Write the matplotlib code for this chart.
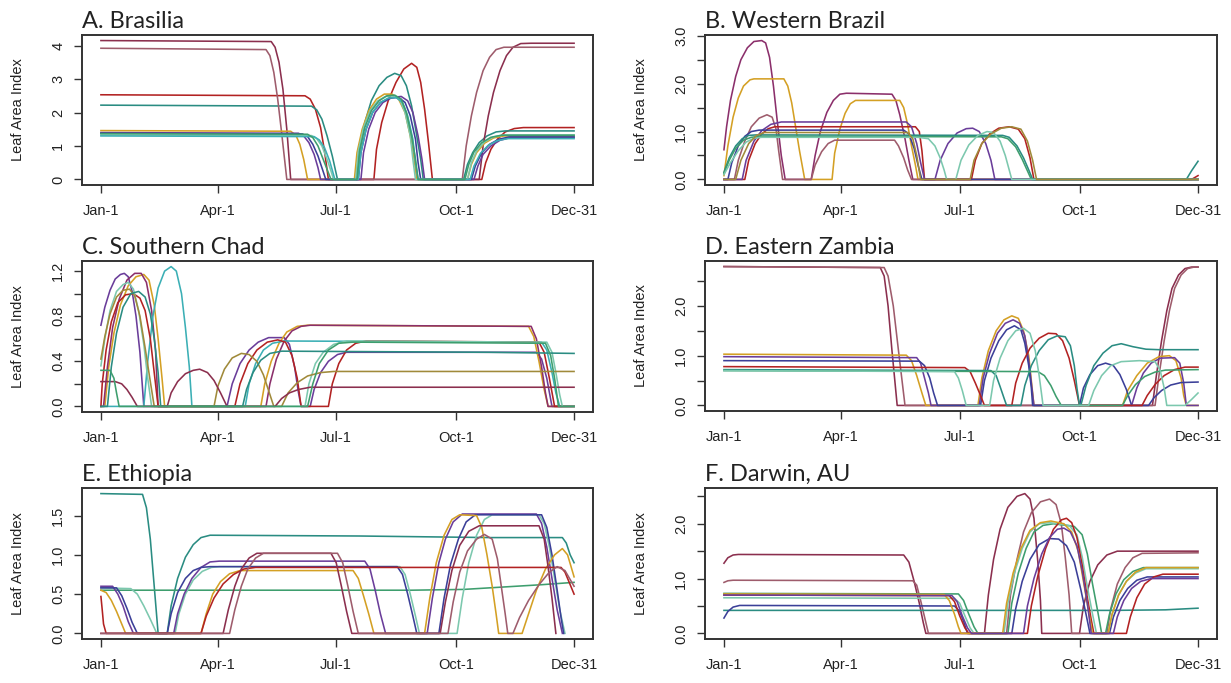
import matplotlib.pyplot as plt

plt.rcParams['font.family'] = ['Liberation Sans', 'DejaVu Sans']

# colours used for the runs
RED = '#B22222'
TEAL = '#2A8C82'
MAROON = '#8B2F4E'
MAUVE = '#9E5C6C'
GOLD = '#D4A024'
PURPLE = '#6A3D9A'
NAVY = '#3B3F98'
AQUA = '#7CC8AE'
CYAN = '#3BAFB5'
GREEN = '#3E9E6E'
PLUM = '#8B2F6B'
OLIVE = '#A08A3A'

TICK_DAYS = [1, 91, 182, 274, 365]
TICK_LABELS = ['Jan-1', 'Apr-1', 'Jul-1', 'Oct-1', 'Dec-31']

# ---- A. Brasilia : (day of year, LAI)
brasilia = [
    [(1, 2.53), (158, 2.50), (162, 2.40), (166, 2.10), (170, 1.55), (173, 0.85), (176, 0),
     (211, 0), (213, 0.9), (217, 1.7), (222, 2.35), (228, 2.9), (234, 3.3), (240, 3.47), (244, 3.35),
     (247, 2.9), (250, 2.1), (253, 1.1), (256, 0),
     (294, 0), (297, 0.5), (301, 0.9), (306, 1.2), (312, 1.42), (319, 1.52), (326, 1.55), (365, 1.55)],
    [(1, 2.22), (163, 2.19), (167, 2.08), (171, 1.8), (175, 1.3), (179, 0.7), (183, 0),
     (198, 0), (200, 0.9), (204, 1.7), (209, 2.35), (215, 2.8), (221, 3.05), (227, 3.17), (232, 3.1),
     (236, 2.8), (240, 2.2), (244, 1.3), (247, 0.6), (249, 0),
     (280, 0), (283, 0.45), (287, 0.8), (292, 1.1), (298, 1.3), (305, 1.42), (312, 1.45), (365, 1.45)],
    [(1, 4.15), (132, 4.12), (135, 3.95), (138, 3.5), (141, 2.7), (144, 1.5), (147, 0),
     (292, 0), (295, 1.0), (299, 1.9), (303, 2.6), (308, 3.25), (313, 3.7), (318, 3.95), (324, 4.06),
     (332, 4.07), (365, 4.07)],
    [(1, 3.92), (128, 3.88), (131, 3.7), (134, 3.2), (137, 2.4), (140, 1.4), (144, 0),
     (279, 0), (282, 1.0), (286, 1.9), (290, 2.6), (295, 3.25), (300, 3.65), (305, 3.88), (311, 3.95),
     (365, 3.95)],
    [(1, 1.46), (147, 1.44), (151, 1.32), (154, 1.05), (157, 0.6), (160, 0),
     (196, 0), (198, 0.8), (202, 1.5), (207, 2.05), (213, 2.4), (219, 2.55), (225, 2.55), (230, 2.4),
     (235, 2.0), (239, 1.3), (242, 0.6), (244, 0),
     (283, 0), (286, 0.45), (290, 0.8), (296, 1.08), (303, 1.24), (311, 1.3), (365, 1.3)],
    [(1, 1.40), (153, 1.38), (157, 1.3), (161, 1.1), (165, 0.75), (168, 0.35), (170, 0),
     (201, 0), (203, 0.8), (207, 1.5), (212, 2.0), (218, 2.3), (225, 2.45), (232, 2.48), (237, 2.35),
     (241, 2.0), (245, 1.3), (248, 0.6), (250, 0),
     (288, 0), (291, 0.4), (295, 0.75), (301, 1.0), (308, 1.17), (316, 1.25), (365, 1.25)],
    [(1, 1.38), (156, 1.36), (160, 1.28), (164, 1.05), (168, 0.7), (171, 0.35), (174, 0),
     (199, 0), (201, 0.8), (205, 1.5), (210, 2.0), (216, 2.3), (223, 2.43), (230, 2.45), (235, 2.3),
     (239, 1.9), (243, 1.2), (245, 0.5), (247, 0),
     (286, 0), (289, 0.4), (294, 0.8), (300, 1.05), (307, 1.2), (315, 1.27), (365, 1.27)],
    [(1, 1.33), (163, 1.31), (167, 1.22), (171, 1.0), (175, 0.6), (178, 0.25), (180, 0),
     (197, 0), (199, 0.85), (203, 1.55), (208, 2.05), (214, 2.35), (220, 2.48), (226, 2.5), (231, 2.38),
     (235, 2.0), (239, 1.3), (241, 0.6), (243, 0),
     (283, 0), (286, 0.5), (290, 0.85), (296, 1.12), (303, 1.27), (311, 1.33), (365, 1.33)],
    [(1, 1.30), (165, 1.28), (169, 1.18), (173, 0.95), (177, 0.55), (181, 0),
     (199, 0), (201, 0.8), (205, 1.5), (210, 2.0), (216, 2.3), (222, 2.43), (228, 2.45), (233, 2.3),
     (237, 1.9), (241, 1.2), (243, 0.5), (245, 0),
     (285, 0), (288, 0.4), (293, 0.78), (299, 1.02), (306, 1.16), (314, 1.22), (365, 1.22)],
    [(1, 1.37), (160, 1.35), (164, 1.25), (168, 1.0), (172, 0.6), (175, 0.3), (178, 0),
     (198, 0), (200, 0.85), (204, 1.55), (209, 2.05), (215, 2.35), (221, 2.5), (227, 2.52), (232, 2.4),
     (236, 2.0), (240, 1.3), (243, 0.6), (245, 0),
     (281, 0), (284, 0.45), (288, 0.82), (294, 1.1), (301, 1.26), (309, 1.32), (365, 1.32)],
]
brasilia_colors = [RED, TEAL, MAROON, MAUVE, GOLD, PURPLE, NAVY, AQUA, CYAN, GREEN]

# ---- B. Western Brazil
western_brazil = [
    [(1, 0.62), (3, 1.1), (6, 1.65), (10, 2.15), (14, 2.5), (19, 2.75), (24, 2.88), (30, 2.9), (33, 2.85),
     (36, 2.55), (39, 1.95), (42, 1.2), (45, 0.5), (48, 0),
     (68, 0), (71, 0.5), (75, 1.0), (80, 1.4), (85, 1.65), (90, 1.78), (95, 1.8), (130, 1.78), (133, 1.65),
     (136, 1.35), (140, 0.85), (143, 0.4), (146, 0), (365, 0)],
    [(1, 0.08), (4, 0.7), (8, 1.3), (12, 1.7), (16, 1.95), (21, 2.08), (24, 2.1), (47, 2.1), (50, 1.95),
     (53, 1.6), (56, 1.1), (59, 0.6), (63, 0),
     (84, 0), (86, 0.55), (90, 1.05), (94, 1.38), (98, 1.58), (102, 1.65), (136, 1.65), (139, 1.5),
     (142, 1.15), (145, 0.7), (148, 0.3), (150, 0), (365, 0)],
    [(1, 0), (9, 0), (12, 0.4), (17, 0.8), (22, 1.1), (28, 1.28), (34, 1.35), (38, 1.3), (41, 1.05),
     (43, 0.6), (46, 0),
     (68, 0), (71, 0.3), (76, 0.58), (81, 0.75), (86, 0.82), (132, 0.82), (135, 0.7), (139, 0.45),
     (142, 0.2), (145, 0), (365, 0)],
    [(1, 0), (17, 0), (20, 0.4), (25, 0.75), (30, 0.95), (35, 1.06), (40, 1.1), (148, 1.1), (151, 1.0),
     (153, 0.6), (155, 0),
     (191, 0), (194, 0.4), (199, 0.75), (205, 0.95), (212, 1.07), (220, 1.1), (227, 1.05), (232, 0.85),
     (236, 0.45), (239, 0), (360, 0), (365, 0.08)],
    [(1, 0), (15, 0), (18, 0.4), (24, 0.8), (30, 1.02), (37, 1.15), (45, 1.2), (141, 1.2), (145, 1.1),
     (149, 0.75), (152, 0.35), (155, 0),
     (163, 0), (167, 0.4), (173, 0.75), (180, 0.97), (187, 1.06), (192, 1.07), (197, 1.0), (202, 0.75),
     (206, 0.4), (209, 0), (365, 0)],
    [(1, 0), (4, 0), (7, 0.35), (12, 0.7), (17, 0.9), (22, 1.0), (28, 1.03), (139, 1.03), (143, 0.95),
     (147, 0.65), (150, 0.3), (153, 0), (365, 0)],
    [(1, 0.15), (5, 0.45), (10, 0.7), (15, 0.85), (20, 0.92), (26, 0.93), (215, 0.92), (220, 0.88),
     (226, 0.7), (231, 0.45), (235, 0.2), (238, 0), (356, 0), (360, 0.18), (365, 0.38)],
    [(1, 0.12), (5, 0.4), (10, 0.65), (16, 0.82), (22, 0.88), (28, 0.9), (214, 0.89), (219, 0.85),
     (225, 0.68), (230, 0.42), (234, 0.18), (237, 0), (365, 0)],
    [(1, 0.1), (6, 0.35), (12, 0.6), (18, 0.78), (24, 0.86), (30, 0.88), (150, 0.88), (158, 0.85),
     (163, 0.7), (167, 0.45), (170, 0.2), (172, 0),
     (179, 0), (183, 0.4), (189, 0.72), (196, 0.92), (203, 1.0), (208, 0.98), (213, 0.8), (217, 0.5),
     (220, 0.2), (222, 0), (365, 0)],
    [(1, 0), (10, 0), (14, 0.4), (20, 0.75), (26, 0.92), (32, 0.98), (142, 0.98), (146, 0.85), (149, 0.5),
     (152, 0),
     (190, 0), (193, 0.4), (199, 0.75), (206, 0.95), (214, 1.07), (222, 1.1), (229, 1.05), (234, 0.8),
     (238, 0.4), (241, 0), (365, 0)],
]
western_brazil_colors = [PLUM, GOLD, MAUVE, RED, PURPLE, NAVY, TEAL, GREEN, AQUA, OLIVE]

# ---- C. Southern Chad
southern_chad = [
    [(1, 0.72), (4, 0.88), (8, 1.03), (12, 1.13), (16, 1.17), (19, 1.18), (22, 1.15), (25, 1.02), (28, 0.8),
     (31, 0.48), (34, 0),
     (98, 0), (102, 0.2), (108, 0.38), (115, 0.5), (122, 0.57), (130, 0.61), (142, 0.61), (146, 0.55),
     (150, 0.35), (153, 0.12), (155, 0),
     (162, 0), (165, 0.15), (170, 0.3), (176, 0.4), (183, 0.46), (190, 0.48), (336, 0.48), (340, 0.42),
     (344, 0.25), (348, 0), (365, 0)],
    [(1, 0), (4, 0), (7, 0.35), (11, 0.65), (16, 0.9), (22, 1.07), (28, 1.15), (34, 1.17), (38, 1.12),
     (42, 0.9), (45, 0.6), (48, 0.25), (50, 0),
     (124, 0), (127, 0.2), (132, 0.4), (138, 0.56), (144, 0.66), (152, 0.71), (160, 0.72), (330, 0.71),
     (334, 0.62), (338, 0.4), (342, 0.15), (345, 0), (365, 0)],
    [(1, 0), (3, 0), (6, 0.35), (10, 0.7), (15, 0.95), (21, 1.12), (27, 1.18), (32, 1.18), (36, 1.1),
     (40, 0.85), (43, 0.5), (45, 0),
     (128, 0), (131, 0.2), (136, 0.42), (142, 0.58), (148, 0.67), (155, 0.71), (162, 0.72), (332, 0.71),
     (336, 0.6), (340, 0.35), (343, 0.12), (345, 0), (365, 0)],
    [(1, 0), (34, 0), (37, 0.4), (41, 0.8), (45, 1.05), (50, 1.2), (55, 1.24), (59, 1.2), (63, 1.0),
     (66, 0.7), (69, 0.35), (71, 0),
     (112, 0), (115, 0.2), (120, 0.38), (126, 0.5), (133, 0.56), (142, 0.58), (340, 0.57), (344, 0.5),
     (348, 0.3), (351, 0.12), (354, 0), (365, 0)],
    [(1, 0), (2, 0.2), (5, 0.5), (9, 0.75), (14, 0.92), (20, 0.99), (26, 1.0), (31, 0.96), (35, 0.85),
     (39, 0.6), (42, 0.3), (45, 0),
     (104, 0), (108, 0.2), (114, 0.38), (121, 0.5), (129, 0.57), (137, 0.59), (143, 0.57), (148, 0.45),
     (152, 0.25), (155, 0),
     (176, 0), (179, 0.2), (184, 0.38), (190, 0.5), (197, 0.56), (205, 0.58), (338, 0.57), (342, 0.48),
     (346, 0.25), (350, 0), (365, 0)],
    [(1, 0.36), (4, 0.6), (8, 0.85), (13, 1.02), (18, 1.08), (22, 1.1), (26, 1.04), (30, 0.85), (34, 0.55),
     (37, 0.25), (40, 0),
     (158, 0), (161, 0.2), (166, 0.38), (172, 0.48), (180, 0.55), (190, 0.58), (344, 0.57), (348, 0.48),
     (351, 0.3), (354, 0.1), (356, 0), (365, 0)],
    [(1, 0.42), (4, 0.62), (8, 0.82), (13, 0.97), (18, 1.03), (23, 1.04), (27, 0.98), (31, 0.8), (35, 0.52),
     (39, 0.22), (42, 0),
     (88, 0), (91, 0.18), (96, 0.33), (102, 0.43), (109, 0.47), (115, 0.46), (121, 0.4), (126, 0.28),
     (130, 0.14), (134, 0),
     (140, 0), (145, 0.12), (152, 0.21), (160, 0.27), (170, 0.3), (180, 0.31), (365, 0.31)],
    [(1, 0.22), (12, 0.22), (17, 0.2), (21, 0.15), (25, 0.08), (29, 0),
     (52, 0), (55, 0.12), (60, 0.22), (66, 0.29), (72, 0.32), (77, 0.33), (83, 0.3), (88, 0.23), (93, 0.12),
     (98, 0),
     (135, 0), (140, 0.07), (146, 0.12), (153, 0.15), (162, 0.17), (365, 0.17)],
    [(1, 0), (6, 0), (9, 0.35), (13, 0.65), (18, 0.88), (24, 1.0), (30, 1.02), (35, 0.97), (39, 0.82),
     (42, 0.6), (45, 0.3), (47, 0),
     (110, 0), (113, 0.15), (118, 0.3), (124, 0.41), (131, 0.47), (140, 0.49), (300, 0.48), (365, 0.47)],
    [(1, 0.32), (8, 0.32), (11, 0.25), (13, 0.12), (15, 0),
     (160, 0), (164, 0.2), (169, 0.38), (176, 0.5), (184, 0.56), (195, 0.57), (343, 0.56), (347, 0.45),
     (350, 0.25), (353, 0), (365, 0)],
]
southern_chad_colors = [PURPLE, GOLD, PLUM, CYAN, RED, AQUA, OLIVE, MAROON, TEAL, GREEN]

# ---- D. Eastern Zambia
eastern_zambia = [
    [(1, 2.79), (121, 2.77), (124, 2.6), (127, 2.0), (130, 1.1), (134, 0),
     (330, 0), (333, 0.6), (337, 1.3), (341, 1.9), (345, 2.35), (350, 2.62), (355, 2.75), (360, 2.78),
     (365, 2.78)],
    [(1, 2.79), (124, 2.77), (127, 2.6), (131, 2.0), (135, 1.1), (140, 0),
     (332, 0), (335, 0.6), (339, 1.3), (343, 1.9), (347, 2.35), (352, 2.62), (357, 2.75), (362, 2.78),
     (365, 2.78)],
    [(1, 1.03), (141, 1.01), (145, 0.9), (149, 0.6), (153, 0.25), (156, 0),
     (196, 0), (199, 0.55), (204, 1.1), (210, 1.5), (216, 1.72), (222, 1.8), (227, 1.75), (231, 1.5),
     (235, 1.0), (237, 0.5), (239, 0),
     (307, 0), (311, 0.3), (318, 0.6), (326, 0.85), (335, 0.98), (343, 1.0), (348, 0.9), (352, 0.55),
     (354, 0.2), (356, 0), (365, 0)],
    [(1, 0.98), (149, 0.96), (152, 0.85), (155, 0.55), (158, 0.25), (160, 0),
     (197, 0), (200, 0.55), (205, 1.05), (211, 1.45), (217, 1.65), (223, 1.72), (228, 1.65), (232, 1.4),
     (235, 0.9), (237, 0.45), (239, 0),
     (314, 0), (318, 0.35), (323, 0.65), (329, 0.85), (336, 0.95), (347, 0.96), (351, 0.85), (354, 0.45),
     (356, 0), (365, 0)],
    [(1, 0.9), (151, 0.89), (155, 0.8), (159, 0.55), (162, 0.25), (165, 0),
     (198, 0), (201, 0.5), (206, 0.95), (212, 1.3), (218, 1.52), (224, 1.6), (229, 1.52), (232, 1.25),
     (235, 0.8), (237, 0.35), (238, 0),
     (274, 0), (277, 0.35), (282, 0.62), (288, 0.8), (294, 0.85), (300, 0.8), (305, 0.62), (310, 0.32),
     (314, 0),
     (327, 0), (331, 0.15), (337, 0.3), (344, 0.41), (352, 0.46), (365, 0.47)],
    [(1, 0.78), (186, 0.76), (190, 0.68), (194, 0.45), (198, 0.2), (201, 0),
     (222, 0), (225, 0.45), (230, 0.85), (236, 1.15), (243, 1.35), (250, 1.45), (256, 1.44), (261, 1.3),
     (266, 0.95), (270, 0.5), (274, 0),
     (322, 0), (326, 0.2), (332, 0.42), (339, 0.6), (347, 0.72), (355, 0.77), (365, 0.77)],
    [(1, 0.72), (206, 0.70), (210, 0.6), (213, 0.38), (216, 0.15), (218, 0),
     (229, 0), (232, 0.4), (237, 0.8), (243, 1.1), (250, 1.32), (257, 1.4), (263, 1.38), (267, 1.2),
     (270, 0.8), (272, 0.35), (274, 0),
     (275, 0), (279, 0.4), (285, 0.8), (292, 1.05), (299, 1.2), (306, 1.24), (315, 1.18), (325, 1.13),
     (335, 1.12), (365, 1.12)],
    [(1, 0.7), (242, 0.68), (247, 0.6), (252, 0.4), (256, 0.18), (260, 0),
     (307, 0), (311, 0.2), (317, 0.42), (324, 0.58), (332, 0.67), (340, 0.71), (365, 0.72)],
    [(1, 0.7), (178, 0.68), (181, 0.55), (184, 0.3), (187, 0),
     (205, 0), (208, 0.5), (213, 0.95), (219, 1.3), (225, 1.5), (231, 1.55), (236, 1.45), (240, 1.1),
     (243, 0.6), (246, 0),
     (281, 0), (285, 0.3), (291, 0.6), (298, 0.8), (306, 0.88), (320, 0.9), (332, 0.88), (336, 0.7),
     (339, 0.35), (341, 0),
     (355, 0), (360, 0.12), (365, 0.25)],
]
eastern_zambia_colors = [MAROON, MAUVE, GOLD, PURPLE, NAVY, RED, TEAL, GREEN, AQUA]

# ---- E. Ethiopia
ethiopia = [
    [(1, 1.78), (33, 1.77), (36, 1.6), (39, 1.2), (42, 0.6), (45, 0),
     (52, 0), (55, 0.35), (60, 0.7), (66, 0.97), (72, 1.13), (78, 1.22), (85, 1.25), (200, 1.24),
     (300, 1.22), (356, 1.22), (359, 1.15), (362, 1.0), (365, 0.9)],
    [(1, 0.55), (150, 0.55), (240, 0.55), (280, 0.56), (310, 0.59), (340, 0.62), (365, 0.65)],
    [(1, 0.58), (24, 0.57), (29, 0.5), (34, 0.35), (39, 0.18), (44, 0),
     (58, 0), (61, 0.25), (66, 0.5), (72, 0.68), (79, 0.79), (86, 0.84), (92, 0.85), (231, 0.85),
     (235, 0.75), (239, 0.5), (243, 0.22), (246, 0),
     (275, 0), (279, 0.45), (284, 0.9), (290, 1.25), (296, 1.45), (302, 1.51), (338, 1.51), (342, 1.4),
     (346, 1.1), (350, 0.7), (354, 0.3), (358, 0)],
    [(1, 0.6), (10, 0.6), (14, 0.5), (18, 0.35), (22, 0.15), (26, 0),
     (57, 0), (60, 0.25), (65, 0.5), (71, 0.7), (78, 0.84), (85, 0.91), (92, 0.92), (204, 0.92),
     (208, 0.82), (212, 0.55), (216, 0.25), (220, 0),
     (252, 0), (256, 0.45), (261, 0.9), (266, 1.2), (272, 1.42), (279, 1.52), (336, 1.52), (340, 1.4),
     (344, 1.1), (348, 0.7), (352, 0.3), (356, 0)],
    [(1, 0.58), (13, 0.58), (17, 0.48), (21, 0.32), (25, 0.14), (29, 0),
     (52, 0), (55, 0.25), (60, 0.52), (66, 0.7), (72, 0.8), (78, 0.84), (85, 0.85), (229, 0.85),
     (233, 0.75), (237, 0.5), (241, 0.22), (244, 0),
     (261, 0), (265, 0.45), (270, 0.88), (276, 1.2), (282, 1.42), (289, 1.51), (340, 1.51), (344, 1.35),
     (348, 1.0), (352, 0.55), (355, 0.2), (357, 0)],
    [(1, 0.55), (5, 0.52), (9, 0.42), (13, 0.28), (17, 0.12), (20, 0),
     (78, 0), (82, 0.25), (87, 0.5), (93, 0.66), (100, 0.76), (108, 0.8), (195, 0.8), (199, 0.7),
     (203, 0.48), (207, 0.25), (211, 0),
     (250, 0), (254, 0.45), (259, 0.9), (265, 1.25), (271, 1.45), (277, 1.51), (290, 1.5), (294, 1.35),
     (298, 1.0), (302, 0.6), (305, 0.25), (307, 0),
     (325, 0), (330, 0.25), (336, 0.55), (343, 0.82), (350, 1.0), (356, 1.08), (360, 1.0), (365, 0.72)],
    [(1, 0.47), (2, 0.3), (3, 0.12), (5, 0),
     (78, 0), (82, 0.22), (88, 0.45), (95, 0.63), (103, 0.75), (111, 0.82), (120, 0.84), (355, 0.84),
     (358, 0.78), (362, 0.62), (365, 0.5)],
    [(1, 0), (95, 0), (99, 0.3), (104, 0.6), (109, 0.82), (115, 0.96), (121, 1.02), (178, 1.02), (182, 0.9),
     (186, 0.6), (190, 0.28), (194, 0),
     (262, 0), (266, 0.4), (271, 0.8), (277, 1.12), (284, 1.3), (292, 1.37), (338, 1.37), (342, 1.2),
     (345, 0.85), (348, 0.45), (351, 0)],
    [(1, 0), (100, 0), (104, 0.3), (109, 0.6), (114, 0.82), (120, 0.96), (126, 1.02), (183, 1.02),
     (187, 0.9), (191, 0.6), (195, 0.28), (199, 0),
     (268, 0), (272, 0.4), (277, 0.78), (283, 1.05), (290, 1.2), (296, 1.26), (302, 1.2), (306, 0.95),
     (309, 0.6), (312, 0.25), (314, 0),
     (318, 0), (323, 0.2), (330, 0.42), (338, 0.62), (346, 0.78), (352, 0.85), (358, 0.8), (365, 0.6)],
]
ethiopia_colors = [TEAL, GREEN, AQUA, PURPLE, NAVY, GOLD, RED, MAROON, MAUVE]

# ---- F. Darwin, AU
darwin = [
    [(1, 1.28), (4, 1.38), (8, 1.43), (12, 1.44), (139, 1.43), (143, 1.3), (147, 0.95), (151, 0.55),
     (154, 0.2), (156, 0),
     (201, 0), (204, 0.7), (208, 1.35), (213, 1.9), (219, 2.3), (226, 2.5), (232, 2.55), (236, 2.45),
     (239, 2.1), (242, 1.3), (244, 0.6), (245, 0),
     (274, 0), (277, 0.5), (282, 0.95), (288, 1.25), (295, 1.43), (303, 1.5), (365, 1.5)],
    [(1, 0.93), (4, 0.96), (8, 0.97), (146, 0.96), (149, 0.88), (152, 0.6), (155, 0.3), (158, 0),
     (218, 0), (221, 0.7), (226, 1.35), (231, 1.85), (237, 2.2), (244, 2.4), (251, 2.45), (256, 2.35),
     (260, 2.0), (263, 1.4), (266, 0.7), (268, 0),
     (295, 0), (298, 0.45), (303, 0.9), (309, 1.2), (315, 1.38), (322, 1.46), (365, 1.47)],
    [(1, 0.42), (100, 0.42), (200, 0.42), (300, 0.42), (340, 0.43), (365, 0.46)],
    [(1, 0.28), (4, 0.4), (8, 0.48), (13, 0.51), (178, 0.5), (182, 0.4), (185, 0.22), (188, 0),
     (222, 0), (225, 0.45), (230, 0.95), (236, 1.35), (243, 1.62), (251, 1.73), (258, 1.72), (264, 1.6),
     (270, 1.3), (275, 0.8), (279, 0.35), (282, 0),
     (297, 0), (300, 0.3), (305, 0.6), (311, 0.82), (318, 0.97), (326, 1.03), (365, 1.03)],
    [(1, 0.73), (181, 0.72), (185, 0.6), (189, 0.35), (193, 0.12), (196, 0),
     (219, 0), (222, 0.55), (227, 1.1), (233, 1.55), (239, 1.85), (246, 1.97), (254, 2.0), (270, 1.95),
     (276, 1.8), (280, 1.45), (284, 0.9), (288, 0.4), (291, 0),
     (294, 0), (297, 0.35), (302, 0.72), (308, 0.98), (315, 1.13), (323, 1.2), (365, 1.2)],
    [(1, 0.65), (178, 0.64), (182, 0.55), (186, 0.32), (190, 0.1), (193, 0),
     (216, 0), (219, 0.55), (224, 1.1), (230, 1.55), (236, 1.85), (243, 2.0), (251, 2.02), (266, 1.97),
     (272, 1.8), (276, 1.4), (280, 0.85), (284, 0.35), (287, 0),
     (296, 0), (299, 0.35), (304, 0.7), (310, 0.95), (317, 1.1), (325, 1.18), (365, 1.18)],
    [(1, 0.7), (174, 0.69), (178, 0.58), (182, 0.32), (186, 0.1), (189, 0),
     (234, 0), (237, 0.5), (242, 1.05), (248, 1.55), (254, 1.9), (260, 2.07), (264, 2.1), (268, 2.02),
     (272, 1.75), (276, 1.25), (280, 0.65), (283, 0.25), (285, 0),
     (310, 0), (313, 0.3), (318, 0.65), (324, 0.9), (331, 1.03), (338, 1.08), (365, 1.08)],
    [(1, 0.72), (170, 0.71), (174, 0.6), (178, 0.35), (181, 0.12), (183, 0),
     (215, 0), (218, 0.55), (223, 1.1), (229, 1.55), (236, 1.88), (244, 2.02), (252, 2.05), (262, 2.0),
     (268, 1.85), (273, 1.5), (277, 0.95), (281, 0.4), (284, 0),
     (296, 0), (299, 0.35), (304, 0.7), (310, 0.95), (317, 1.12), (325, 1.2), (365, 1.2)],
    [(1, 0.7), (176, 0.69), (180, 0.58), (184, 0.32), (188, 0.1), (191, 0),
     (231, 0), (234, 0.5), (239, 1.0), (245, 1.45), (251, 1.75), (257, 1.9), (262, 1.92), (267, 1.85),
     (272, 1.6), (276, 1.15), (280, 0.55), (283, 0),
     (300, 0), (303, 0.3), (308, 0.6), (314, 0.82), (321, 0.95), (329, 1.0), (365, 1.0)],
]
darwin_colors = [MAROON, MAUVE, TEAL, NAVY, GREEN, AQUA, RED, GOLD, PURPLE]

# y ticks: positions and the labels R kept
brasilia_yticks = [0, 1, 2, 3, 4]
brasilia_ylabels = ['0', '1', '2', '3', '4']
western_brazil_yticks = [0, 0.5, 1.0, 1.5, 2.0, 2.5, 3.0]
western_brazil_ylabels = ['0.0', '', '1.0', '', '2.0', '', '3.0']
southern_chad_yticks = [0, 0.2, 0.4, 0.6, 0.8, 1.0, 1.2]
southern_chad_ylabels = ['0.0', '', '0.4', '', '0.8', '', '1.2']
eastern_zambia_yticks = [0, 0.5, 1.0, 1.5, 2.0, 2.5]
eastern_zambia_ylabels = ['0.0', '', '1.0', '', '2.0', '']
ethiopia_yticks = [0, 0.5, 1.0, 1.5]
ethiopia_ylabels = ['0.0', '0.5', '1.0', '1.5']
darwin_yticks = [0, 0.5, 1.0, 1.5, 2.0, 2.5]
darwin_ylabels = ['0.0', '', '1.0', '', '2.0', '']

W, H = 1231, 683
fig = plt.figure(figsize=(W / 100, H / 100), dpi=100)


def box(x0, x1, y0, y1):
    return [x0 / W, 1 - y1 / H, (x1 - x0) / W, (y1 - y0) / H]


panels = [
    ('A. Brasilia', brasilia, brasilia_colors, brasilia_yticks, brasilia_ylabels, 4.15, box(82, 593, 35, 185)),
    ('B. Western Brazil', western_brazil, western_brazil_colors, western_brazil_yticks,
     western_brazil_ylabels, 2.9, box(705, 1217, 35, 185)),
    ('C. Southern Chad', southern_chad, southern_chad_colors, southern_chad_yticks,
     southern_chad_ylabels, 1.24, box(82, 593, 261, 412)),
    ('D. Eastern Zambia', eastern_zambia, eastern_zambia_colors, eastern_zambia_yticks,
     eastern_zambia_ylabels, 2.79, box(705, 1217, 261, 411)),
    ('E. Ethiopia', ethiopia, ethiopia_colors, ethiopia_yticks, ethiopia_ylabels, 1.78, box(82, 593, 488, 639)),
    ('F. Darwin, AU', darwin, darwin_colors, darwin_yticks, darwin_ylabels, 2.55, box(705, 1217, 488, 639)),
]

for title, curves, colors, yt, yl, ymax, rect in panels:
    ax = fig.add_axes(rect)
    for pts, col in zip(curves, colors):
        days = [p[0] for p in pts]
        lai = [p[1] for p in pts]
        ax.plot(days, lai, color=col, lw=1.15)

    # R style 4% padding
    ax.set_xlim(1 - 0.04 * 364, 365 + 0.04 * 364)
    ax.set_ylim(-0.04 * ymax, ymax * 1.04)
    ax.set_xticks(TICK_DAYS)
    ax.set_xticklabels(TICK_LABELS)
    ax.set_yticks(yt)
    ax.set_yticklabels(yl, rotation=90, va='center')

    for s in ax.spines.values():
        s.set_color('#333333')
        s.set_linewidth(1.4)
    ax.tick_params(colors='#333333', labelcolor='#222222', labelsize=10.5,
                   length=6, width=1.0, pad=6)
    ax.tick_params(axis='x', pad=8)

    ax.text(0, 1.045, title, transform=ax.transAxes, fontsize=17, fontfamily=['Lato', 'DejaVu Sans'],
            color='#222222', ha='left', va='baseline')
    ax.text(-0.125, 0.5, 'Leaf Area Index', transform=ax.transAxes, rotation=90,
            fontsize=10.5, color='#222222', ha='center', va='center')

plt.savefig('out.png', dpi=100)
